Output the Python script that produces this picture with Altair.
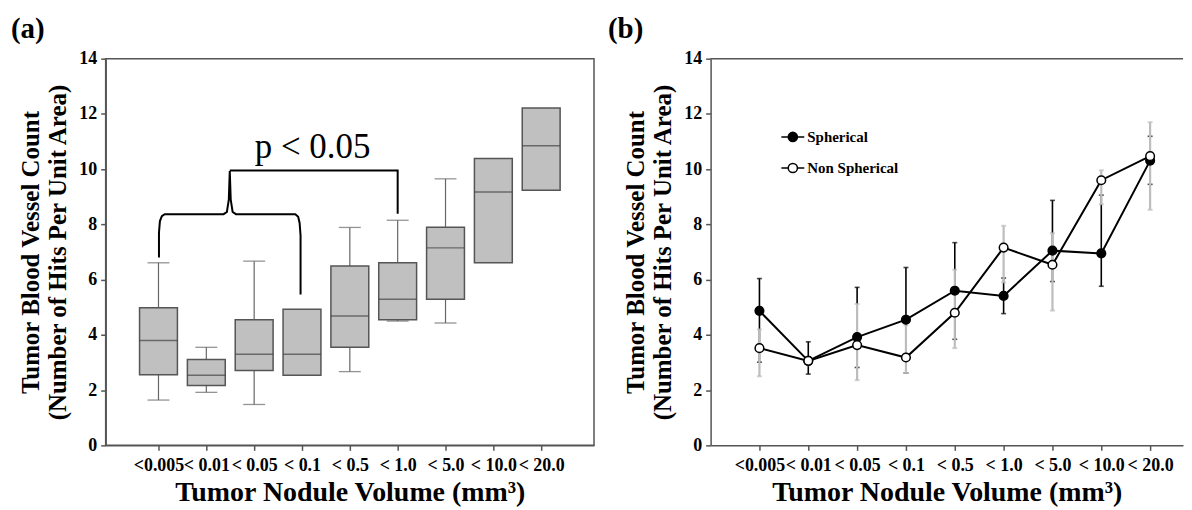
import altair as alt
import pandas as pd

# ---------------- data ----------------
categories = ["<0.005", "< 0.01", "< 0.05", "< 0.1", "< 0.5", "< 1.0", "< 5.0", "< 10.0", "< 20.0"]
cat_idx = [1, 2, 3, 4, 5, 6, 7, 8, 9]

# panel (a) box plot statistics
box_min = [1.64, 1.92, 1.48, None, 2.67, 4.50, 4.43, None, None]
box_q1 = [2.56, 2.17, 2.71, 2.54, 3.55, 4.55, 5.29, 6.61, 9.24]
box_med = [3.80, 2.54, 3.30, 3.30, 4.68, 5.29, 7.15, 9.17, 10.85]
box_q3 = [4.98, 3.11, 4.55, 4.93, 6.49, 6.61, 7.90, 10.39, 12.21]
box_max = [6.61, 3.55, 6.67, None, 7.89, 8.15, 9.65, None, None]

# significance bracket (in category-index / value units)
bracket_grp = ["lower"] * 17 + ["upper"] * 3
bracket_x = [1.01, 1.01, 1.03, 1.07, 1.13, 2.36, 2.43, 2.47, 2.49, 2.51, 2.55, 2.62,
             3.86, 3.92, 3.95, 3.97, 3.97,
             2.49, 6.00, 6.00]
bracket_y = [6.80, 7.70, 8.12, 8.30, 8.37, 8.37, 8.45, 8.90, 9.93, 8.90, 8.45, 8.37,
             8.37, 8.28, 8.05, 7.60, 5.46,
             9.95, 9.95, 8.39]
annot_text = ["p < 0.05"]
annot_x = [4.22]
annot_y = [10.41]

# panel (b) means with error bar ends
series_names = ["Spherical", "Non Spherical"]
sph_mean = [4.87, 3.06, 3.92, 4.55, 5.60, 5.41, 7.05, 6.95, 10.31]
sph_lo = [3.01, 2.58, 2.82, 2.62, 3.84, 4.77, 5.93, 5.76, 9.45]
sph_hi = [6.04, 3.75, 5.72, 6.44, 7.34, 6.06, 8.87, 9.06, 11.19]
non_mean = [3.52, 3.06, 3.63, 3.18, 4.80, 7.16, 6.54, 9.60, 10.47]
non_lo = [2.50, 2.90, 2.36, 2.62, 3.52, 5.90, 4.88, 8.73, 8.53]
non_hi = [4.20, 3.20, 5.12, 4.35, 6.36, 7.95, 7.68, 9.96, 11.70]

# ---------------- tables ----------------
box_df = pd.DataFrame({"idx": cat_idx, "cat": categories, "lo": box_min, "q1": box_q1,
                       "med": box_med, "q3": box_q3, "hi": box_max})
br_df = pd.DataFrame({"grp": bracket_grp, "bx": bracket_x, "by": bracket_y,
                      "ord": list(range(len(bracket_x)))})
txt_df = pd.DataFrame({"t": annot_text, "tx": annot_x, "ty": annot_y})

line_df = pd.concat([
    pd.DataFrame({"idx": cat_idx, "series": series_names[0], "mean": sph_mean, "lo": sph_lo, "hi": sph_hi}),
    pd.DataFrame({"idx": cat_idx, "series": series_names[1], "mean": non_mean, "lo": non_lo, "hi": non_hi}),
], ignore_index=True)

# ---------------- styling ----------------
FONT = "Liberation Serif"
WA, HA = 490, 388
WB = 474
AX = "#555555"
label_expr = "[" + ",".join("'%s'" % c for c in categories) + "][datum.value - 1]"
ytitle = ["Tumor Blood Vessel Count", "(Number of Hits Per Unit Area)"]
xtitle = "Tumor Nodule Volume (mm\u00b3)"


def xenc(field, dmax):
    return alt.X(field + ":Q", scale=alt.Scale(domain=[0, dmax], nice=False, zero=False),
                 axis=alt.Axis(values=cat_idx, labelExpr=label_expr, title=xtitle))


def yenc(field):
    return alt.Y(field + ":Q", scale=alt.Scale(domain=[0, 14], nice=False, zero=True),
                 axis=alt.Axis(values=[0, 2, 4, 6, 8, 10, 12, 14], title=ytitle))


# ---------------- panel (a) ----------------
base_a = alt.Chart(box_df)
whisk_up = base_a.transform_filter("isValid(datum.hi)").mark_rule(color="#666666", strokeWidth=1.2).encode(
    x=xenc("idx", 10), y=yenc("q3"), y2="hi:Q")
whisk_dn = base_a.transform_filter("isValid(datum.lo)").mark_rule(color="#666666", strokeWidth=1.2).encode(
    x=xenc("idx", 10), y=yenc("lo"), y2="q1:Q")
cap_up = base_a.transform_filter("isValid(datum.hi)").mark_tick(
    orient="horizontal", size=22, thickness=1.3, color="#666666").encode(x=xenc("idx", 10), y=yenc("hi"))
cap_dn = base_a.transform_filter("isValid(datum.lo)").mark_tick(
    orient="horizontal", size=22, thickness=1.3, color="#666666").encode(x=xenc("idx", 10), y=yenc("lo"))
boxes = base_a.mark_bar(size=38, fill="#c0c0c0", stroke="#555555", strokeWidth=1.5).encode(
    x=xenc("idx", 10), y=yenc("q1"), y2="q3:Q")
medians = base_a.mark_tick(orient="horizontal", size=38, thickness=1.5, color="#444444").encode(
    x=xenc("idx", 10), y=yenc("med"))
bracket = alt.Chart(br_df).mark_line(color="black", strokeWidth=2, interpolate="linear").encode(
    x=xenc("bx", 10), y=yenc("by"), detail="grp:N", order="ord:Q")
ptext = alt.Chart(txt_df).mark_text(font=FONT, fontSize=35, align="center", baseline="alphabetic",
                                    color="black").encode(x=xenc("tx", 10), y=yenc("ty"), text="t:N")

panel_a = alt.layer(whisk_up, whisk_dn, cap_up, cap_dn, boxes, medians, bracket, ptext).properties(
    width=WA, height=HA,
    title=alt.TitleParams("(a)", anchor="start", font=FONT, fontSize=29, fontWeight="bold",
                          color="black", dx=-8, offset=6))

# ---------------- panel (b) ----------------
DB = WB / 49.0
base_b = alt.Chart(line_df)
sph_only = "datum.series == 'Spherical'"
non_only = "datum.series == 'Non Spherical'"

top_line = alt.Chart(txt_df).mark_rule(color=AX, strokeWidth=1.5).encode(
    x=alt.value(0), x2=alt.value(WB), y=alt.value(0))
eb_black = base_b.transform_filter(sph_only).mark_rule(color="black", strokeWidth=1.6).encode(
    x=xenc("idx", DB), y=yenc("lo"), y2="hi:Q")
eb_black_c1 = base_b.transform_filter(sph_only).mark_tick(orient="horizontal", size=5, thickness=1.6,
                                                          color="black").encode(x=xenc("idx", DB), y=yenc("lo"))
eb_black_c2 = base_b.transform_filter(sph_only).mark_tick(orient="horizontal", size=5, thickness=1.6,
                                                          color="black").encode(x=xenc("idx", DB), y=yenc("hi"))
eb_grey = base_b.transform_filter(non_only).mark_rule(color="#bdbdbd", strokeWidth=2.2).encode(
    x=xenc("idx", DB), y=yenc("lo"), y2="hi:Q")
eb_grey_c1 = base_b.transform_filter(non_only).mark_tick(orient="horizontal", size=5, thickness=2,
                                                         color="#bdbdbd").encode(x=xenc("idx", DB), y=yenc("lo"))
eb_grey_c2 = base_b.transform_filter(non_only).mark_tick(orient="horizontal", size=5, thickness=2,
                                                         color="#bdbdbd").encode(x=xenc("idx", DB), y=yenc("hi"))
lines = base_b.mark_line(color="black", strokeWidth=2).encode(
    x=xenc("idx", DB), y=yenc("mean"), detail="series:N")
legend_path = "M-1,0L-0.4,0M0.4,0A0.4,0.4,0,1,1,-0.4,0A0.4,0.4,0,1,1,0.4,0ZM0.4,0L1,0"
points = base_b.mark_circle(size=75, stroke="black", strokeWidth=1.5, opacity=1).encode(
    x=xenc("idx", DB), y=yenc("mean"),
    fill=alt.Fill("series:N", sort=series_names,
                  scale=alt.Scale(domain=series_names, range=["black", "white"]),
                  legend=alt.Legend(title=None, orient="none", legendX=677, legendY=66,
                                    symbolType=legend_path, symbolSize=529,
                                    symbolStrokeColor="black", symbolStrokeWidth=1.5,
                                    labelFont=FONT, labelFontSize=15, labelFontWeight="bold",
                                    labelColor="black", labelOffset=2, rowPadding=10.2, padding=0)),
    stroke=alt.value("black"))

panel_b = alt.layer(top_line, eb_black, eb_black_c1, eb_black_c2, eb_grey, eb_grey_c1, eb_grey_c2,
                    lines, points).properties(
    width=WB, height=HA, view=alt.ViewBackground(stroke=None),
    title=alt.TitleParams("(b)", anchor="start", font=FONT, fontSize=29, fontWeight="bold",
                          color="black", dx=-16, offset=6))

chart = alt.hconcat(panel_a, panel_b, spacing=13).properties(
    padding={"left": 2, "top": 5, "right": 0, "bottom": 0}
).configure_view(stroke=AX, strokeWidth=1.5).configure_axis(
    grid=False, domainColor=AX, domainWidth=1.5, tickColor=AX, tickWidth=1.5, tickSize=5,
    labelFont=FONT, labelFontSize=18, labelFontWeight="bold", labelColor="black",
    labelOverlap=False, labelBound=False, labelFlush=False,
    titleFont=FONT, titleFontWeight="bold", titleColor="black"
).configure_axisX(labelPadding=6, titlePadding=4, titleFontSize=28).configure_axisY(
    labelPadding=4, titlePadding=8, titleFontSize=25)

chart.save("out.html", embed_options={"renderer": "svg", "actions": False})
